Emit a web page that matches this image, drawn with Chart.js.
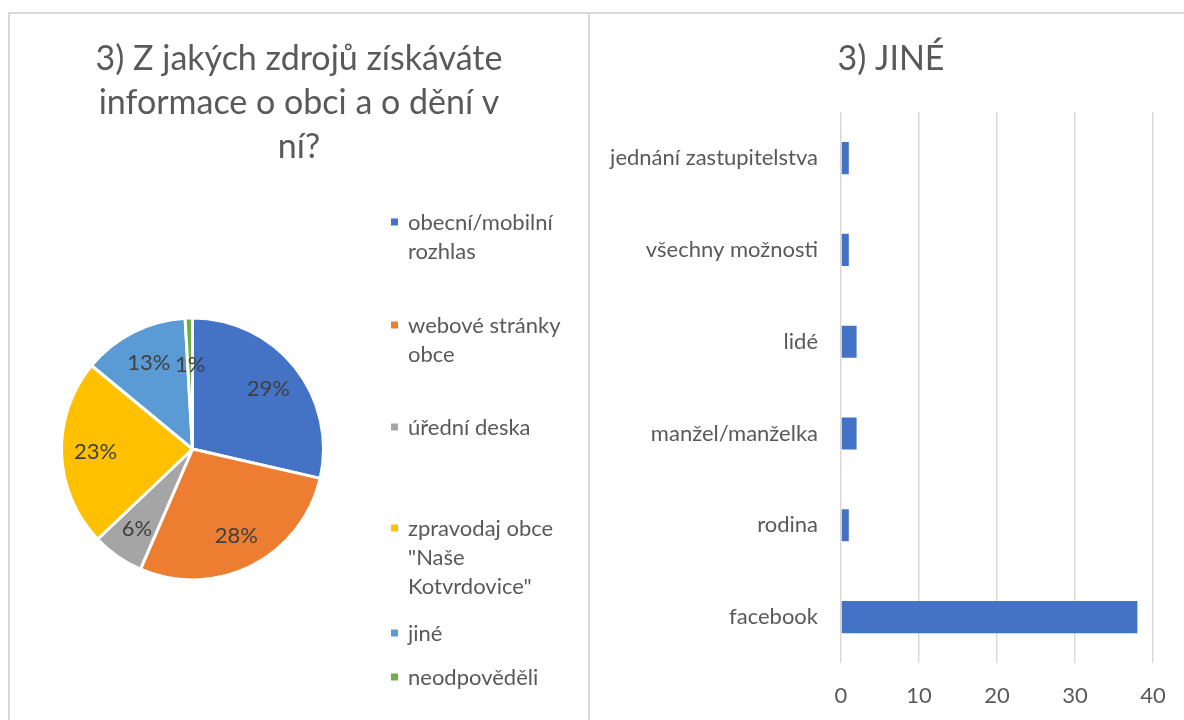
<!DOCTYPE html>
<html>
<head>
<meta charset="utf-8">
<script src="https://cdn.jsdelivr.net/npm/chart.js@4.4.0/dist/chart.umd.min.js"></script>
<style>
  html, body { margin: 0; padding: 0; background: #fff; overflow: hidden; width: 1184px; height: 720px; }
  .panel { position: absolute; box-sizing: border-box; border: 0 solid #d9d9d9; }
  #left { left: 8px; top: 12px; width: 582px; height: 720px; border-width: 2px 2px 0 2px; }
  #right { left: 590px; top: 12px; width: 610px; height: 720px; border-top-width: 2px; }
  canvas { position: absolute; left: 0; top: 0; }
</style>
</head>
<body>
<div id="left" class="panel"><canvas id="pie" width="578" height="706"></canvas></div>
<div id="right" class="panel"><canvas id="bar" width="602" height="706"></canvas></div>
<script>
// pie: sources of information
const pieTitle = ['3) Z jakých zdrojů získáváte', 'informace o obci a o dění v', 'ní?'];
const sources = [
  'obecní/mobilní rozhlas',
  'webové stránky obce',
  'úřední deska',
  'zpravodaj obce "Naše Kotvrdovice"',
  'jiné',
  'neodpověděli'
];
const sourceShares = [28.6, 27.9, 6.4, 23.1, 13.1, 0.9];
const pieColors = ['#4472C4', '#ED7D31', '#A5A5A5', '#FFC000', '#5B9BD5', '#70AD47'];

// bar: "jiné" answers
const otherTitle = '3) JINÉ';
const otherAnswers = ['jednání zastupitelstva', 'všechny možnosti', 'lidé', 'manžel/manželka', 'rodina', 'facebook'];
const otherCounts = [1, 1, 2, 2, 1, 38];
const countTicks = [0, 10, 20, 30, 40];

Chart.defaults.font.family = 'Lato';
Chart.defaults.color = '#595959';

function wrapText(ctx, text, maxWidth) {
  const words = text.split(' ');
  const lines = [];
  let line = '';
  words.forEach(w => {
    const test = line ? line + ' ' + w : w;
    if (line && ctx.measureText(test).width > maxWidth) {
      lines.push(line);
      line = w;
    } else {
      line = test;
    }
  });
  if (line) lines.push(line);
  return lines;
}

// a fixed-width box on the right side of the layout; draws whatever drawFn says
function rightBox(chart, width, drawFn) {
  const box = {
    position: 'right',
    weight: 10,
    fullSize: false,
    options: {},
    isHorizontal() { return false; },
    update(maxWidth, maxHeight) {
      this.width = width;
      this.height = maxHeight;
    },
    draw() { if (drawFn) drawFn(this); }
  };
  Chart.layouts.addBox(chart, box);
}

// percent labels inside the slices
const pieLabels = {
  id: 'pieLabels',
  afterDatasetsDraw(chart) {
    const ctx = chart.ctx;
    const data = chart.data.datasets[0].data;
    const total = data.reduce((a, b) => a + b, 0);
    ctx.save();
    ctx.font = '22px Lato';
    ctx.fillStyle = '#404040';
    ctx.textAlign = 'center';
    ctx.textBaseline = 'middle';
    chart.getDatasetMeta(0).data.forEach((arc, i) => {
      const p = arc.getProps(['x', 'y', 'startAngle', 'endAngle', 'outerRadius'], true);
      const mid = (p.startAngle + p.endAngle) / 2;
      const share = data[i] / total;
      // thin slices get their label pulled in a bit, like Excel's best fit
      const r = p.outerRadius * (share < 0.02 ? 0.64 : 0.74);
      ctx.fillText(Math.round(share * 100) + '%', p.x + Math.cos(mid) * r, p.y + Math.sin(mid) * r);
    });
    ctx.restore();
  }
};

// legend on the right with wrapped text
const sideLegend = {
  id: 'sideLegend',
  beforeInit(chart, args, opts) {
    rightBox(chart, opts.width, (box) => {
      const ctx = chart.ctx;
      const colors = chart.data.datasets[0].backgroundColor;
      ctx.save();
      ctx.font = opts.font;
      ctx.textAlign = 'left';
      ctx.textBaseline = 'middle';
      chart.data.labels.forEach((label, i) => {
        const y = box.top + opts.itemTops[i];
        ctx.fillStyle = colors[i];
        ctx.fillRect(box.left + opts.boxLeft, y - 3.5, 7, 7);
        ctx.fillStyle = opts.color;
        wrapText(ctx, label, opts.maxTextWidth).forEach((line, j) => {
          ctx.fillText(line, box.left + opts.textLeft, y + 1 + j * opts.lineHeight);
        });
      });
      ctx.restore();
    });
  }
};

// empty space right of the bar plot, so the title stays centred on the whole canvas
const rightGap = {
  id: 'rightGap',
  beforeInit(chart, args, opts) {
    rightBox(chart, opts.width, null);
  }
};

new Chart(document.getElementById('pie'), {
  type: 'pie',
  data: {
    labels: sources,
    datasets: [{
      data: sourceShares,
      backgroundColor: pieColors,
      borderColor: '#ffffff',
      borderWidth: 3
    }]
  },
  plugins: [pieLabels, sideLegend],
  options: {
    responsive: false,
    animation: false,
    radius: 131,
    layout: { padding: 0 },
    plugins: {
      legend: { display: false },
      tooltip: { enabled: false },
      title: {
        display: true,
        text: pieTitle,
        color: '#595959',
        font: { family: 'Lato', size: 34, weight: 'normal', lineHeight: 1.294 },
        padding: { top: 23, bottom: 9 }
      },
      sideLegend: {
        width: 213,
        boxLeft: 16,
        textLeft: 33,
        maxTextWidth: 165,
        lineHeight: 29,
        itemTops: [44, 147, 249, 350, 455, 499],
        font: '22px Lato',
        color: '#595959'
      }
    }
  }
});

new Chart(document.getElementById('bar'), {
  type: 'bar',
  data: {
    labels: otherAnswers,
    datasets: [{
      data: otherCounts,
      backgroundColor: '#4472C4',
      barPercentage: 0.35,
      categoryPercentage: 1
    }]
  },
  plugins: [rightGap],
  options: {
    indexAxis: 'y',
    responsive: false,
    animation: false,
    layout: { padding: 0 },
    plugins: {
      legend: { display: false },
      tooltip: { enabled: false },
      rightGap: { width: 39 },
      title: {
        display: true,
        text: otherTitle,
        color: '#595959',
        font: { family: 'Lato', size: 34, weight: 'normal', lineHeight: 1.3 },
        padding: { top: 23, bottom: 31 }
      }
    },
    scales: {
      x: {
        min: 0,
        max: 40,
        afterBuildTicks(s) { s.ticks = countTicks.map(v => ({ value: v })); },
        afterFit(s) { s.height = 57; },
        ticks: { color: '#595959', font: { size: 22 }, padding: 20 },
        grid: { color: '#d9d9d9', lineWidth: 1.5, drawTicks: false },
        border: { display: false }
      },
      y: {
        afterFit(s) { s.width = 251; },
        ticks: { color: '#595959', font: { size: 22 }, padding: 23 },
        grid: { display: false, drawTicks: false },
        border: { display: false }
      }
    }
  }
});
</script>
</body>
</html>
